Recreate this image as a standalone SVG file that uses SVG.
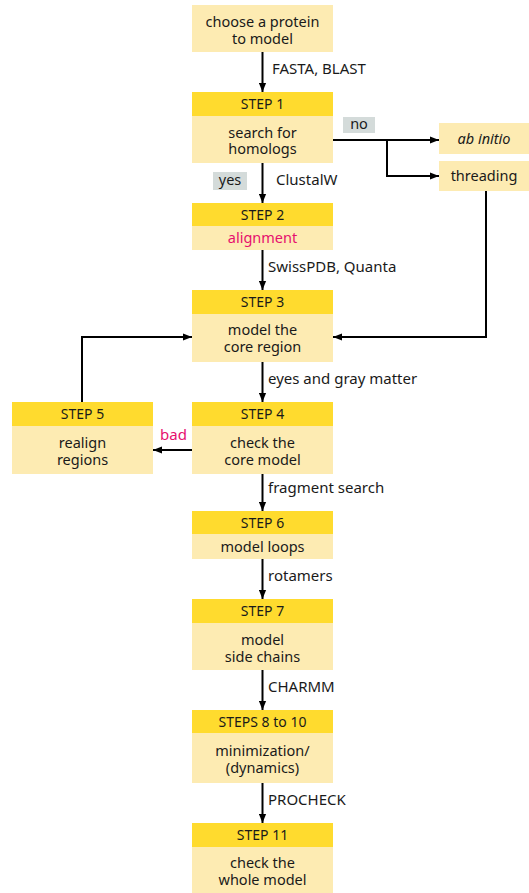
<svg xmlns="http://www.w3.org/2000/svg" width="529" height="893" viewBox="0 0 529 893">
<style>
.hd{fill:#ffdb2e}
.bd{fill:#fdebb2}
.tag{fill:#d4dbda}
text{font-family:"Noto Sans","Open Sans","DejaVu Sans",sans-serif;font-size:14.5px;fill:#1a1a1a}
.h{font-size:14px}
.lb{font-size:15px}
.c{text-anchor:middle}
.pink{fill:#e6106e}
.ln{fill:none;stroke:#000;stroke-width:2}
</style>
<defs>
<marker id="ah" viewBox="0 0 10 8" refX="10" refY="4" markerWidth="9" markerHeight="8" markerUnits="userSpaceOnUse" orient="auto">
<path d="M0,0 L10,4 L0,8 z" fill="#000"/>
</marker>
</defs>
<rect width="529" height="893" fill="#fff"/>

<g id="connectors">
<line class="ln" x1="262.5" y1="52" x2="262.5" y2="92" marker-end="url(#ah)"/>
<line class="ln" x1="262.5" y1="163" x2="262.5" y2="203" marker-end="url(#ah)"/>
<line class="ln" x1="262.5" y1="250" x2="262.5" y2="290" marker-end="url(#ah)"/>
<line class="ln" x1="262.5" y1="362" x2="262.5" y2="402" marker-end="url(#ah)"/>
<line class="ln" x1="262.5" y1="474" x2="262.5" y2="511" marker-end="url(#ah)"/>
<line class="ln" x1="262.5" y1="559" x2="262.5" y2="599" marker-end="url(#ah)"/>
<line class="ln" x1="262.5" y1="670" x2="262.5" y2="710" marker-end="url(#ah)"/>
<line class="ln" x1="262.5" y1="783" x2="262.5" y2="823" marker-end="url(#ah)"/>
<line class="ln" x1="333" y1="140" x2="439" y2="140" marker-end="url(#ah)"/>
<polyline class="ln" points="387,140 387,176 439,176" marker-end="url(#ah)"/>
<polyline class="ln" points="486,191 486,337 333,337" marker-end="url(#ah)"/>
<line class="ln" x1="192" y1="450" x2="153" y2="450" marker-end="url(#ah)"/>
<polyline class="ln" points="82,402 82,337 192,337" marker-end="url(#ah)"/>
<rect class="tag" x="343" y="117" width="32" height="16"/>
<text class="c" x="359" y="129">no</text>
<rect class="tag" x="213" y="172" width="34" height="18"/>
<text class="c" x="230" y="185">yes</text>
<text class="lb" x="272" y="74">FASTA, BLAST</text>
<text class="lb" x="276" y="185">ClustalW</text>
<text class="lb" x="268" y="272">SwissPDB, Quanta</text>
<text class="lb" x="268" y="384">eyes and gray matter</text>
<text class="lb pink" x="160" y="440">bad</text>
<text class="lb" x="268" y="493">fragment search</text>
<text class="lb" x="268" y="581">rotamers</text>
<text class="lb" x="268" y="692">CHARMM</text>
<text class="lb" x="268" y="805">PROCHECK</text>
</g>

<g id="start">
<rect class="bd" x="192" y="5" width="141" height="47"/>
<text class="c" x="262.5" y="27">choose a protein<tspan x="262.5" dy="16.5">to model</tspan></text>
</g>

<g id="step1">
<rect class="hd" x="192" y="92" width="141" height="24"/>
<rect class="bd" x="192" y="116" width="141" height="47"/>
<text class="c h" x="262.5" y="109">STEP 1</text>
<text class="c" x="262.5" y="137.5">search for<tspan x="262.5" dy="16.5">homologs</tspan></text>
</g>

<g id="abinitio">
<rect class="bd" x="439" y="123" width="90" height="31"/>
<text class="c" x="484" y="143.5" font-style="italic">ab initio</text>
</g>

<g id="threading">
<rect class="bd" x="439" y="161" width="90" height="30"/>
<text class="c" x="484" y="181">threading</text>
</g>

<g id="step2">
<rect class="hd" x="192" y="203" width="141" height="23"/>
<rect class="bd" x="192" y="226" width="141" height="24"/>
<text class="c h" x="262.5" y="219.5">STEP 2</text>
<text class="c pink" x="262.5" y="243">alignment</text>
</g>

<g id="step3">
<rect class="hd" x="192" y="290" width="141" height="24"/>
<rect class="bd" x="192" y="314" width="141" height="48"/>
<text class="c h" x="262.5" y="307">STEP 3</text>
<text class="c" x="262.5" y="335">model the<tspan x="262.5" dy="17">core region</tspan></text>
</g>

<g id="step4">
<rect class="hd" x="192" y="402" width="141" height="24"/>
<rect class="bd" x="192" y="426" width="141" height="48"/>
<text class="c h" x="262.5" y="419">STEP 4</text>
<text class="c" x="262.5" y="447.5">check the<tspan x="262.5" dy="17">core model</tspan></text>
</g>

<g id="step5">
<rect class="hd" x="12" y="402" width="141" height="24"/>
<rect class="bd" x="12" y="426" width="141" height="48"/>
<text class="c h" x="82.5" y="419">STEP 5</text>
<text class="c" x="82.5" y="447.5">realign<tspan x="82.5" dy="17">regions</tspan></text>
</g>

<g id="step6">
<rect class="hd" x="192" y="511" width="141" height="23"/>
<rect class="bd" x="192" y="534" width="141" height="25"/>
<text class="c h" x="262.5" y="527.5">STEP 6</text>
<text class="c" x="262.5" y="551.5">model loops</text>
</g>

<g id="step7">
<rect class="hd" x="192" y="599" width="141" height="24"/>
<rect class="bd" x="192" y="623" width="141" height="47"/>
<text class="c h" x="262.5" y="616">STEP 7</text>
<text class="c" x="262.5" y="644.5">model<tspan x="262.5" dy="17">side chains</tspan></text>
</g>

<g id="step8to10">
<rect class="hd" x="192" y="710" width="141" height="23"/>
<rect class="bd" x="192" y="733" width="141" height="50"/>
<text class="c h" x="262.5" y="726.5">STEPS 8 to 10</text>
<text class="c" x="262.5" y="756">minimization/<tspan x="262.5" dy="17">(dynamics)</tspan></text>
</g>

<g id="step11">
<rect class="hd" x="192" y="823" width="141" height="24"/>
<rect class="bd" x="192" y="847" width="141" height="46"/>
<text class="c h" x="262.5" y="840">STEP 11</text>
<text class="c" x="262.5" y="868">check the<tspan x="262.5" dy="17">whole model</tspan></text>
</g>
</svg>
